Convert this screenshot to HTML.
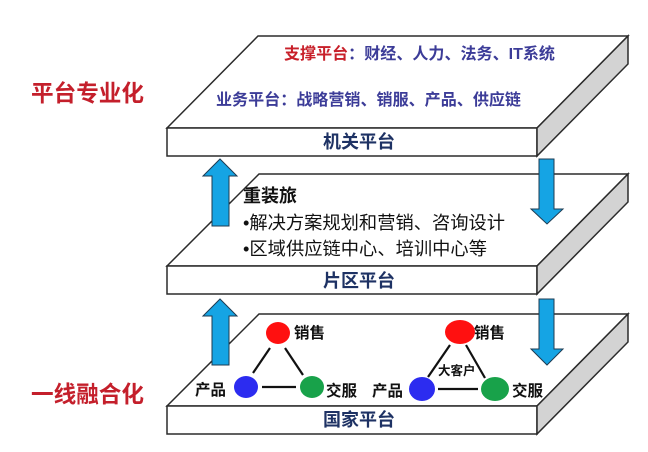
<!DOCTYPE html>
<html><head><meta charset="utf-8"><style>
html,body{margin:0;padding:0;background:#fff;}
svg{display:block;}
text{font-family:"Liberation Sans","Noto Sans CJK SC",sans-serif;}
</style></head><body>
<svg width="648" height="452" viewBox="0 0 648 452" xmlns="http://www.w3.org/2000/svg">
<rect width="648" height="452" fill="#fff"/>
<g stroke="#2b2b2b" stroke-width="1.5" stroke-linejoin="miter">
<!-- bottom slab -->
<polygon points="167,406 259,314 628,314 537,406" fill="#fff"/>
<rect x="167" y="406" width="370" height="28" fill="#fff"/>
<polygon points="537,406 628,314 628,342 537,434" fill="#d3d3d3"/>
<!-- middle slab -->
<polygon points="167,266 259,174 628,174 537,266" fill="#fff"/>
<rect x="167" y="266" width="370" height="28" fill="#fff"/>
<polygon points="537,266 628,174 628,202 537,294" fill="#d3d3d3"/>
<!-- top slab -->
<polygon points="167,128 258,36 628,36 537,128" fill="#fff"/>
<rect x="167" y="128" width="370" height="28" fill="#fff"/>
<polygon points="537,128 628,36 628,64 537,156" fill="#d3d3d3"/>
</g>
<!-- arrows -->
<g fill="#15a4e4" stroke="#1d3b52" stroke-width="1">
<polygon points="220,159 237,176 229,176 229,226 212,226 212,176 203,176"/>
<polygon points="220,299 237,316 229,316 229,365 212,365 212,316 203,316"/>
<polygon points="539,159 554,159 554,209 563,209 547,224 531,209 539,209"/>
<polygon points="539,299 554,299 554,349 563,349 547,365 531,349 539,349"/>
</g>
<!-- top texts -->
<text x="284" y="59" font-size="16" font-weight="bold" textLength="271" lengthAdjust="spacingAndGlyphs"><tspan fill="#c8202a">支撑平台</tspan><tspan fill="#3c3c98">：财经、人力、法务、IT系统</tspan></text>
<text x="216" y="105" font-size="16" font-weight="bold" fill="#3c3c98" textLength="305" lengthAdjust="spacingAndGlyphs">业务平台：战略营销、销服、产品、供应链</text>
<text x="359" y="148" font-size="18" font-weight="bold" fill="#1e3264" text-anchor="middle">机关平台</text>
<!-- middle texts -->
<text x="243" y="202" font-size="18" font-weight="bold" fill="#111">重装旅</text>
<text x="243" y="229" font-size="18" fill="#111" textLength="262" lengthAdjust="spacingAndGlyphs">•解决方案规划和营销、咨询设计</text>
<text x="243" y="255" font-size="18" fill="#111" textLength="244" lengthAdjust="spacingAndGlyphs">•区域供应链中心、培训中心等</text>
<text x="359" y="287" font-size="18" font-weight="bold" fill="#1e3264" text-anchor="middle">片区平台</text>
<text x="359" y="426" font-size="18" font-weight="bold" fill="#1e3264" text-anchor="middle">国家平台</text>
<!-- left labels -->
<text x="31" y="101" font-size="23" font-weight="bold" fill="#c41f2b" textLength="113" lengthAdjust="spacingAndGlyphs">平台专业化</text>
<text x="31" y="402" font-size="23" font-weight="bold" fill="#c41f2b" textLength="113" lengthAdjust="spacingAndGlyphs">一线融合化</text>
<!-- left triangle -->
<g stroke="#111" stroke-width="2.2">
<line x1="270" y1="348" x2="253" y2="373"/>
<line x1="285" y1="348" x2="303" y2="375"/>
<line x1="262" y1="387" x2="296" y2="387"/>
<line x1="450" y1="345" x2="428" y2="377"/>
<line x1="466" y1="345" x2="485" y2="378"/>
<line x1="438" y1="389" x2="478" y2="389"/>
</g>
<ellipse cx="278" cy="333" rx="12" ry="11" fill="#ff1010"/>
<ellipse cx="246" cy="387" rx="12" ry="11" fill="#2c2cf0"/>
<ellipse cx="312" cy="387" rx="12" ry="11" fill="#18a24a"/>
<ellipse cx="460" cy="332" rx="15" ry="12" fill="#ff1010"/>
<ellipse cx="422" cy="389" rx="13" ry="12" fill="#2c2cf0"/>
<ellipse cx="495" cy="389" rx="14" ry="12" fill="#18a24a"/>
<g font-size="15.5" font-weight="bold" fill="#111">
<text x="294" y="338">销售</text>
<text x="195" y="395">产品</text>
<text x="326" y="396">交服</text>
<text x="474" y="338">销售</text>
<text x="372" y="396">产品</text>
<text x="512" y="396">交服</text>
</g>
<text x="438" y="375" font-size="12.5" font-weight="bold" fill="#111">大客户</text>
</svg>
</body></html>
